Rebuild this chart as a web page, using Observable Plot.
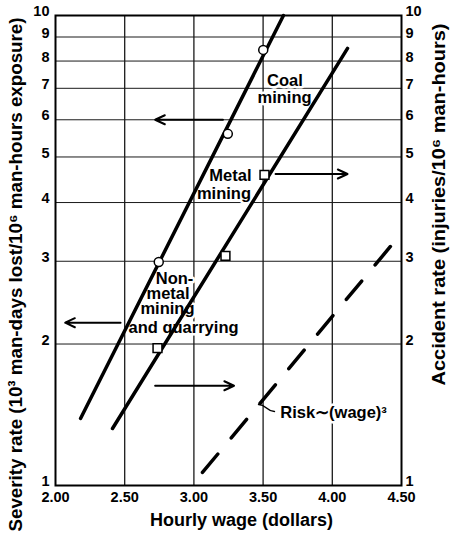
<!DOCTYPE html>
<html>
<head>
<meta charset="utf-8">
<script src="https://cdn.jsdelivr.net/npm/d3@7"></script>
<script src="https://cdn.jsdelivr.net/npm/@observablehq/plot@0.6"></script>
<style>
  html, body { margin: 0; padding: 0; background: white; }
  #chart svg { display: block; }
</style>
</head>
<body>
<div id="chart"></div>
<script>
// ---- axis ticks ----
const xTicks = [2, 2.5, 3, 3.5, 4, 4.5];
const xTickLabels = ["2.00", "2.50", "3.00", "3.50", "4.00", "4.50"];
const yTicks = [1, 2, 3, 4, 5, 6, 7, 8, 9, 10];
const gridYValues = [2, 3, 4, 5, 6, 7, 8, 9];
const gridXValues = [2.5, 3, 3.5, 4];

// ---- series (hourly wage in dollars, rate) ----
const coalLineWage = [2.181, 3.647];
const coalLineRate = [1.389, 10];
const coalPointWage = [2.746, 3.245, 3.501];
const coalPointRate = [2.99, 5.6, 8.45];

const metalLineWage = [2.412, 4.110];
const metalLineRate = [1.322, 8.51];
const metalPointWage = [2.737, 3.228, 3.510];
const metalPointRate = [1.96, 3.08, 4.58];

const riskWage = [3.062, 4.42];
const riskRate = [1.066, 3.225];

// ---- arrows (which axis to read) ----
const arrowFromWage = [3.21, 3.59, 2.47, 2.72];
const arrowToWage = [2.72, 4.11, 2.07, 3.29];
const arrowRate = [6.0, 4.6, 2.22, 1.63];

// ---- labels ----
const labelText = ["Coal", "mining", "Metal", "mining", "Non-", "metal", "mining", "and quarrying", "Risk\u223C(wage)\u00B3"];
const labelWage = [3.658, 3.655, 3.264, 3.217, 2.86, 2.813, 2.809, 2.925, 4.009];
const labelRate = [7.28, 6.69, 4.567, 4.18, 2.757, 2.562, 2.380, 2.169, 1.430];

const leaderWage = [3.467, 3.582];
const leaderRate = [1.487, 1.437];

const xTitle = "Hourly wage (dollars)";
const yLeftTitle = "Severity rate (10\u00B3 man-days lost/10\u2076 man-hours exposure)";
const yRightTitle = "Accident rate (injuries/10\u2076 man-hours)";

// ---- build tables ----
const pts = (xs, ys) => xs.map((x, i) => ({x, y: ys[i]}));
const coalLine = pts(coalLineWage, coalLineRate);
const coalPts = pts(coalPointWage, coalPointRate);
const metalLine = pts(metalLineWage, metalLineRate);
const metalPts = pts(metalPointWage, metalPointRate);
const riskLine = pts(riskWage, riskRate);
const leader = pts(leaderWage, leaderRate);
const arrows = arrowFromWage.map((x1, i) => ({x1, x2: arrowToWage[i], y: arrowRate[i]}));
const labels = labelText.map((t, i) => ({t, x: labelWage[i], y: labelRate[i]}));

const font = "'Liberation Sans', Arial, sans-serif";

const chart = Plot.plot({
  width: 450,
  height: 537,
  marginLeft: 55,
  marginRight: 49,
  marginTop: 15,
  marginBottom: 52,
  x: {domain: [2, 4.5]},
  y: {type: "log", domain: [1, 10]},
  style: {fontFamily: font, fontSize: "15px", background: "white", color: "black"},
  marks: [
    Plot.ruleY(gridYValues, {stroke: "#1a1a1a", strokeWidth: 1}),
    Plot.ruleX(gridXValues, {stroke: "#1a1a1a", strokeWidth: 1.3}),
    Plot.frame({stroke: "black", strokeWidth: 2}),
    Plot.axisX({ticks: xTicks, tickFormat: (d, i) => xTickLabels[i], tickSize: 0, tickPadding: 6, label: null, fontWeight: "bold", fontSize: 14.5}),
    Plot.axisY({ticks: yTicks, anchor: "left", tickSize: 0, tickPadding: 6, dy: -4, tickFormat: d => String(d), label: null, fontWeight: "bold", fontSize: 14.5}),
    Plot.axisY({ticks: yTicks, anchor: "right", tickSize: 0, tickPadding: 4, dy: -4, tickFormat: d => String(d), label: null, fontWeight: "bold", fontSize: 14.5}),
    Plot.text(labels, {x: "x", y: "y", text: "t", fontSize: 16.5, fontWeight: "bold", textAnchor: "middle", lineAnchor: "middle", fill: "black", stroke: "white", strokeWidth: 5}),
    Plot.line(coalLine, {x: "x", y: "y", stroke: "black", strokeWidth: 3.5}),
    Plot.line(metalLine, {x: "x", y: "y", stroke: "black", strokeWidth: 3.5}),
    Plot.line(riskLine, {x: "x", y: "y", stroke: "black", strokeWidth: 3.5, strokeDasharray: "24,21"}),
    Plot.line(leader, {x: "x", y: "y", stroke: "black", strokeWidth: 1.5, curve: "bump-x"}),
    Plot.dot(coalPts, {x: "x", y: "y", r: 4.5, symbol: "circle", fill: "white", stroke: "black", strokeWidth: 1.5}),
    Plot.dot(metalPts, {x: "x", y: "y", r: 5, symbol: "square", fill: "white", stroke: "black", strokeWidth: 1.5}),
    Plot.arrow(arrows, {x1: "x1", x2: "x2", y1: "y", y2: "y", stroke: "black", strokeWidth: 2, headLength: 8, headAngle: 50}),
    Plot.text([xTitle], {frameAnchor: "bottom", dy: 35, dx: 13, fontSize: 18, fontWeight: "bold", textAnchor: "middle", lineAnchor: "middle"}),
    Plot.text([yLeftTitle], {frameAnchor: "left", rotate: -90, dx: -40, dy: 24, fontSize: 19, fontWeight: "bold", textAnchor: "middle", lineAnchor: "middle"}),
    Plot.text([yRightTitle], {frameAnchor: "right", rotate: -90, dx: 37, dy: -46, fontSize: 19, fontWeight: "bold", textAnchor: "middle", lineAnchor: "middle"})
  ]
});
document.getElementById("chart").appendChild(chart);

// condense the long axis titles to the lengths they span in the reference
const titleLengths = new Map([[yLeftTitle, 514], [yRightTitle, 362], [xTitle, 183]]);
chart.querySelectorAll("text").forEach(t => {
  const len = titleLengths.get(t.textContent);
  if (len) {
    t.setAttribute("textLength", len);
    t.setAttribute("lengthAdjust", "spacingAndGlyphs");
  }
});
</script>
</body>
</html>
